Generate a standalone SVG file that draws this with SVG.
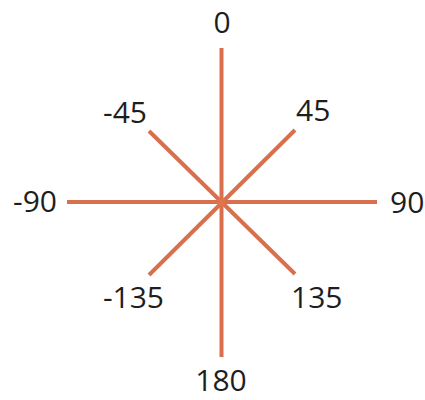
<svg xmlns="http://www.w3.org/2000/svg" width="425" height="400" viewBox="0 0 425 400">
<style>
.ray{stroke:#d8704e;stroke-width:4;stroke-linecap:butt}
.lbl{font-family:"Open Sans","Noto Sans",sans-serif;font-size:30px;fill:#1e1e1e}
</style>
<rect width="425" height="400" fill="#ffffff"/>
<g id="connectors">
<line class="ray" x1="221.5" y1="48" x2="221.5" y2="357"/>
<line class="ray" x1="67" y1="202" x2="377" y2="202"/>
<line class="ray" x1="149" y1="131" x2="295" y2="274"/>
<line class="ray" x1="295" y1="130" x2="149" y2="275"/>
</g>
<g id="center"><circle cx="221.5" cy="202" r="4" fill="#e0744a"/></g>
<g id="n0"><text class="lbl" x="222" y="33" text-anchor="middle">0</text></g>
<g id="n45"><text class="lbl" x="296" y="121">45</text></g>
<g id="n90"><text class="lbl" x="390" y="213">90</text></g>
<g id="n135"><text class="lbl" x="291" y="308">135</text></g>
<g id="n180"><text class="lbl" x="221" y="391" text-anchor="middle">180</text></g>
<g id="nm135"><text class="lbl" x="164" y="308" text-anchor="end">-135</text></g>
<g id="nm90"><text class="lbl" x="57" y="212" text-anchor="end">-90</text></g>
<g id="nm45"><text class="lbl" x="147" y="123" text-anchor="end">-45</text></g>
</svg>
